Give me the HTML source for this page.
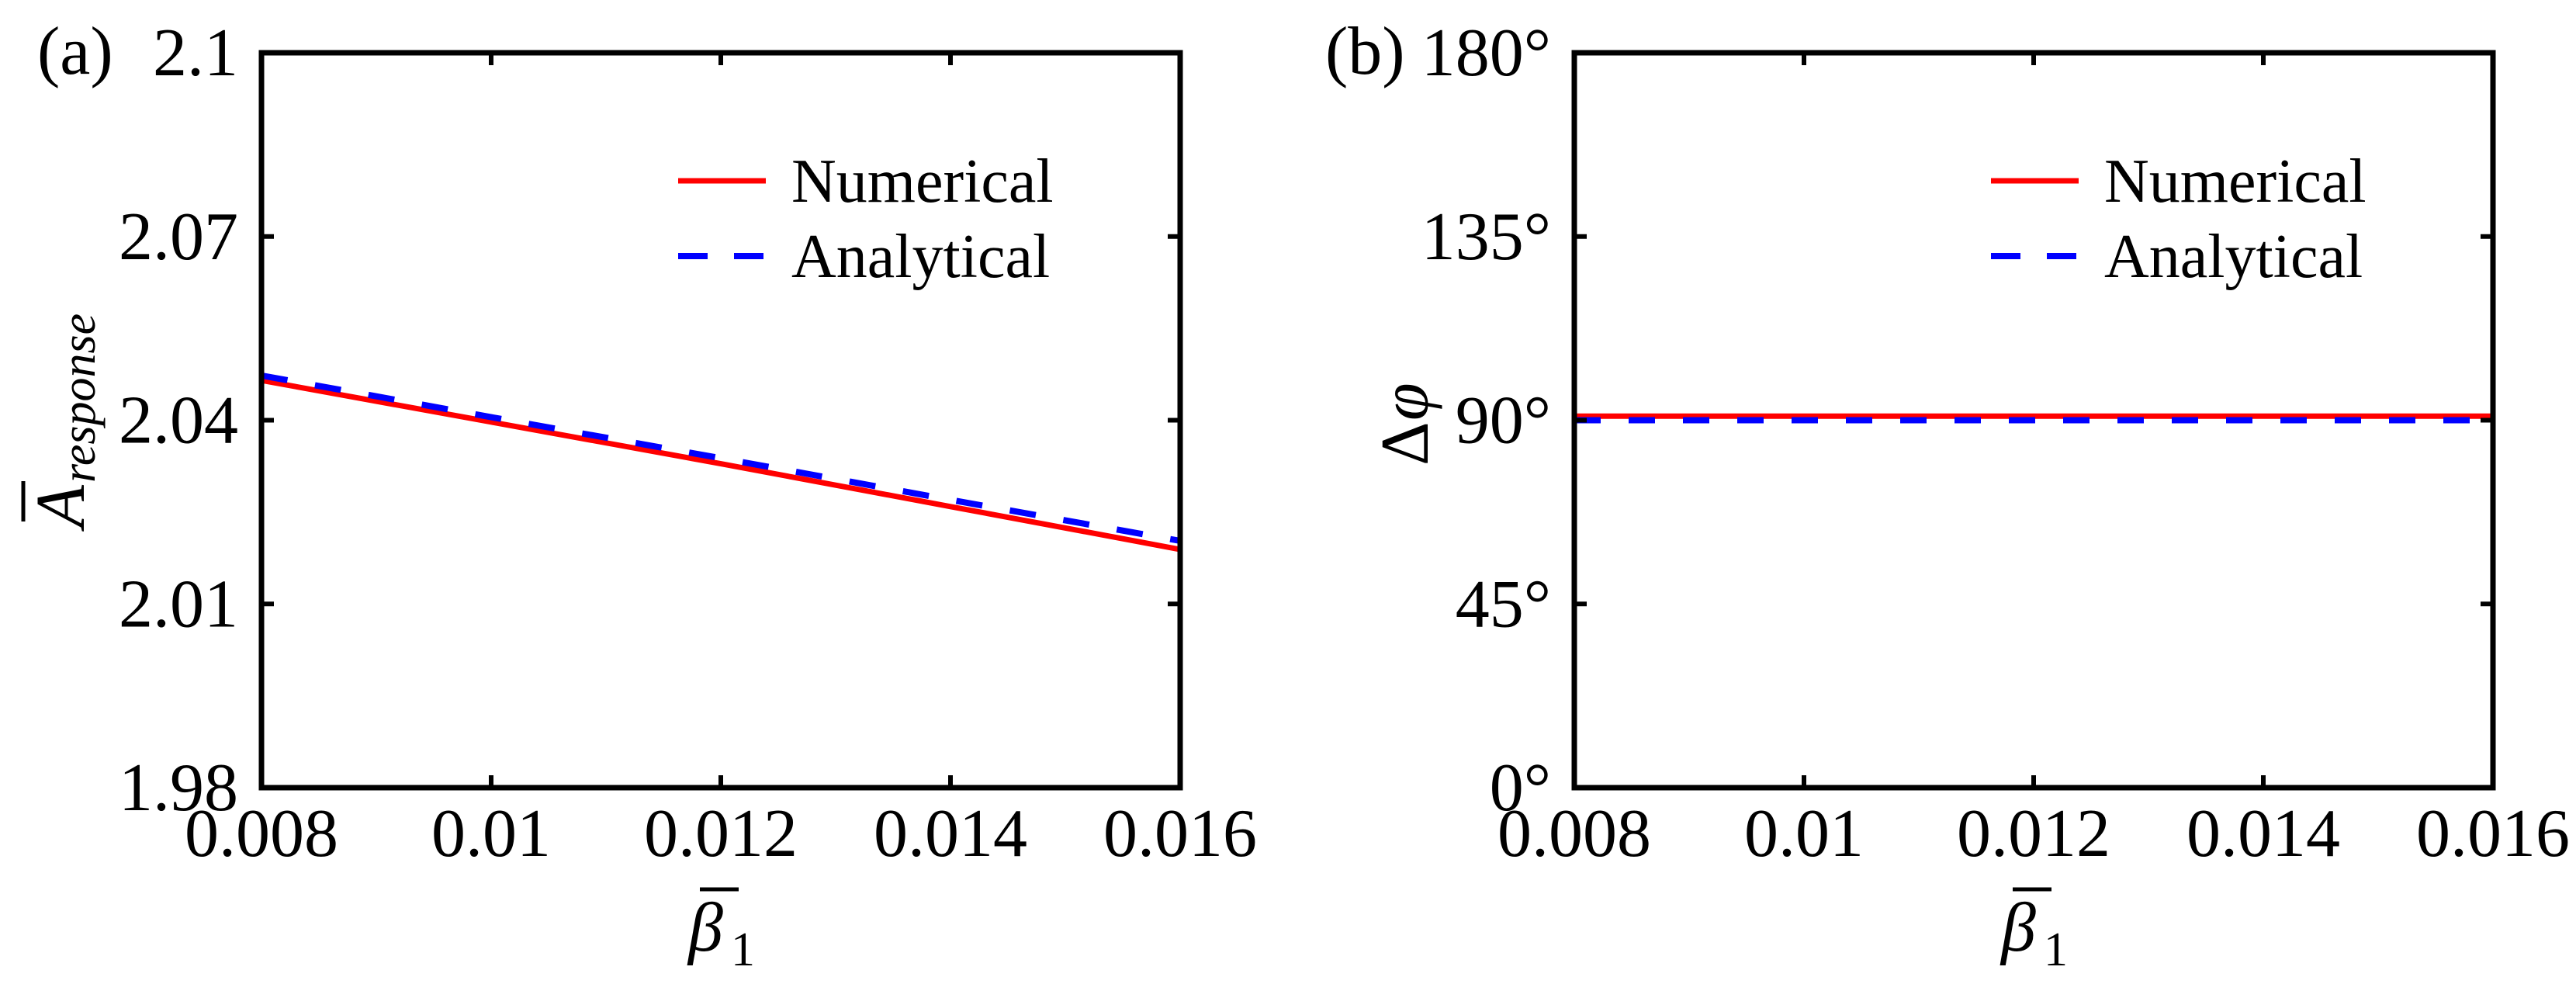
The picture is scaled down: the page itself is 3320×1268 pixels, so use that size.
<!DOCTYPE html>
<html><head><meta charset="utf-8"><style>
html,body{margin:0;padding:0;background:#fff;}
svg{display:block;font-family:"Liberation Serif",serif;}
</style></head><body>
<svg id="fig" width="3320" height="1268" viewBox="0 0 3320 1268" xmlns="http://www.w3.org/2000/svg"></svg>
<script>
// Panel (a) data
const xTicks = [0.008, 0.01, 0.012, 0.014, 0.016];
const xTickLabels = ["0.008", "0.01", "0.012", "0.014", "0.016"];
const aYTicks = [1.98, 2.01, 2.04, 2.07, 2.1];
const aYTickLabels = ["1.98", "2.01", "2.04", "2.07", "2.1"];
const aX = [0.008, 0.010, 0.012, 0.014, 0.016];
const aNumerical = [2.0465, 2.0397, 2.0329, 2.0259, 2.0189];
const aAnalytical = [2.0473, 2.0405, 2.0338, 2.0270, 2.0203];
// Panel (b) data
const bYTicks = [0, 45, 90, 135, 180];
const bYTickLabels = ["0°", "45°", "90°", "135°", "180°"];
const bX = [0.008, 0.016];
const bNumerical = [91.0, 91.0];
const bAnalytical = [90.0, 90.0];

const NS = "http://www.w3.org/2000/svg";
const svg = document.getElementById("fig");
function mk(tag, attrs, parent, text) {
  const e = document.createElementNS(NS, tag);
  for (const k in attrs) e.setAttribute(k, attrs[k]);
  if (text !== undefined) e.textContent = text;
  (parent || svg).appendChild(e);
  return e;
}

function panel(opt) {
  const L = opt.left, R = opt.right, T = 68, B = 1015;
  const g = mk("g", {});
  
  
  const sx = v => L + (v - 0.008) / (0.016 - 0.008) * (R - L);
  const sy = v => B - (v - opt.ymin) / (opt.ymax - opt.ymin) * (B - T);

  // series
  function series(xs, ys, color, dash, nm) {
    const p = mk("polyline", {
      points: xs.map((x, i) => sx(x) + "," + sy(ys[i])).join(" "),
      fill: "none", stroke: color, "stroke-width": dash ? 8 : 7
    }, g);
    if (dash) p.setAttribute("stroke-dasharray", "34 36");
    
    
  }
  series(opt.xs, opt.num, "#ff0000", false, "numerical-line");
  series(opt.xs, opt.ana, "#0000ff", true, "analytical-line");

  // ticks
  xTicks.forEach((v, i) => {
    const x = sx(v);
    mk("line", {x1: x, y1: B, x2: x, y2: B - 16, stroke: "#000", "stroke-width": 6}, g);
    mk("line", {x1: x, y1: T, x2: x, y2: T + 16, stroke: "#000", "stroke-width": 6}, g);
    const t = mk("text", {x: x, y: 1103, "font-size": 88, "text-anchor": "middle"}, g, xTickLabels[i]);
    
    
  });
  opt.yticks.forEach((v, i) => {
    const y = sy(v);
    mk("line", {x1: L, y1: y, x2: L + 16, y2: y, stroke: "#000", "stroke-width": 6}, g);
    mk("line", {x1: R, y1: y, x2: R - 16, y2: y, stroke: "#000", "stroke-width": 6}, g);
    const t = mk("text", {x: L - 30, y: y + 29, "font-size": 88, "text-anchor": "end"}, g, opt.ylabels[i]);
    
    
  });
  const box = mk("rect", {x: L, y: T, width: R - L, height: B - T, fill: "none", stroke: "#000", "stroke-width": 7}, g);
  
  

  // legend
  const lx = opt.legendX;
  const l1 = mk("line", {x1: lx, y1: 233, x2: lx + 113, y2: 233, stroke: "#ff0000", "stroke-width": 7}, g);
  
  
  const t1 = mk("text", {x: lx + 146, y: 260, "font-size": 80}, g, "Numerical");
  
  
  const l2 = mk("line", {x1: lx, y1: 330, x2: lx + 113, y2: 330, stroke: "#0000ff", "stroke-width": 8, "stroke-dasharray": "38 34"}, g);
  
  
  const t2 = mk("text", {x: lx + 146, y: 357, "font-size": 80}, g, "Analytical");
  
  

  // panel label
  const pl = mk("text", {x: opt.labelX, y: 95, "font-size": 88}, g, opt.label);
  
  

  // x title
  const cx = (L + R) / 2 - 12;
  mk("line", {x1: cx - 15, y1: 1146, x2: cx + 35, y2: 1146, stroke: "#000", "stroke-width": 5}, g);
  const xt = mk("text", {x: cx - 30, y: 1225, "font-size": 90, "font-style": "italic"}, g, "β");
  
  
  mk("text", {x: cx + 25, y: 1244, "font-size": 62}, g, "1");
  return {g, sx, sy};
}

panel({name: "panel-a", left: 337, right: 1521, ymin: 1.98, ymax: 2.1,
  yticks: aYTicks, ylabels: aYTickLabels, xs: aX, num: aNumerical, ana: aAnalytical,
  legendX: 874, labelX: 48, label: "(a)"});
panel({name: "panel-b", left: 2029, right: 3213, ymin: 0, ymax: 180,
  yticks: bYTicks, ylabels: bYTickLabels, xs: bX, num: bNumerical, ana: bAnalytical,
  legendX: 2566, labelX: 1708, label: "(b)"});

// y-axis titles
const ya = mk("g", {transform: "translate(108,680) rotate(-90)"});


mk("line", {x1: 8, y1: -78, x2: 60, y2: -78, stroke: "#000", "stroke-width": 5}, ya);
mk("text", {x: 0, y: 0, "font-size": 90, "font-style": "italic"}, ya, "A");
mk("text", {x: 58, y: 14, "font-size": 62, "font-style": "italic"}, ya, "response");

const yb = mk("g", {transform: "translate(1840,600) rotate(-90)"});


mk("text", {x: 0, y: 0, "font-size": 88}, yb, "Δ");
mk("text", {x: 58, y: 0, "font-size": 88, "font-style": "italic"}, yb, "φ");
</script>
</body></html>
